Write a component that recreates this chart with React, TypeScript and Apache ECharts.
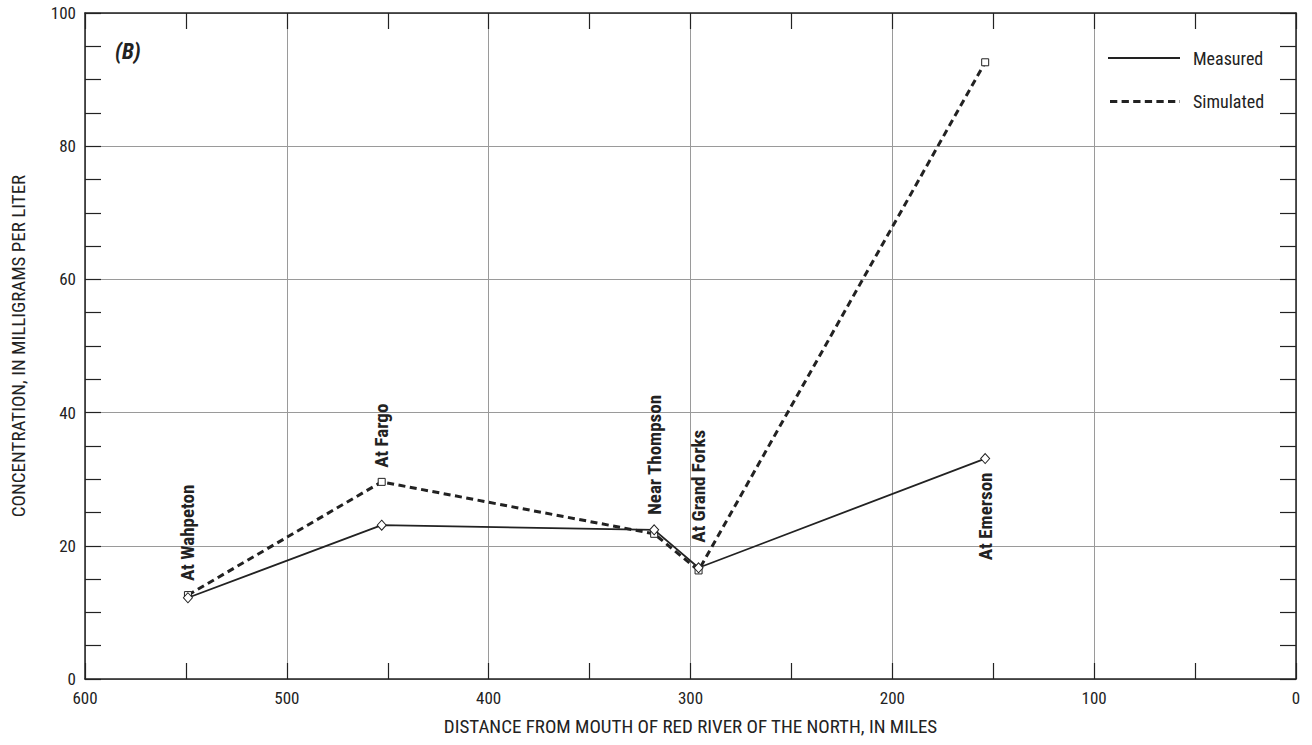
import React, { useEffect, useRef } from "react";
import * as echarts from "echarts";

// ---- Data ----
const stations = ["At Wahpeton", "At Fargo", "Near Thompson", "At Grand Forks", "At Emerson"];
const distanceMiles = [549, 453, 318, 296, 154];
const measured = [12.2, 23.1, 22.4, 16.7, 33.1];
const simulated = [12.6, 29.6, 21.8, 16.3, 92.6];
const xTicks = [0, 100, 200, 300, 400, 500, 600];
const yTicks = [0, 20, 40, 60, 80, 100];

const FONT = "'Liberation Sans Narrow', 'Arial Narrow', 'Roboto Condensed', 'Liberation Sans', sans-serif";
const INK = "#222";
const GRID = "#9a9a9a";

// label placement rules (style, not data)
const labelBelow = [false, false, false, false, true];
const labelGap = [14, 14, 15, 25, 14];

export default function App() {
  const ref = useRef<HTMLDivElement>(null);

  useEffect(() => {
    if (!ref.current) return;
    const chart = echarts.init(ref.current, null, { renderer: "svg" });

    const measuredData = distanceMiles.map((d, i) => [d, measured[i]]);
    const simulatedData = distanceMiles.map((d, i) => [d, simulated[i]]);

    const commonX = {
      type: "value",
      min: xTicks[0],
      max: xTicks[xTicks.length - 1],
      interval: 100,
      inverse: true,
      axisLine: { show: true, onZero: false, lineStyle: { color: INK, width: 1.5 } },
      axisTick: { show: true, inside: true, length: 16, lineStyle: { color: INK, width: 1.2 } },
      minorTick: { show: true, splitNumber: 2, length: 16, lineStyle: { color: INK, width: 1.2 } },
    };
    const commonY = {
      type: "value",
      min: yTicks[0],
      max: yTicks[yTicks.length - 1],
      interval: 20,
      axisLine: { show: true, onZero: false, lineStyle: { color: INK, width: 1.5 } },
      axisTick: { show: true, inside: true, length: 16, lineStyle: { color: INK, width: 1.2 } },
      minorTick: { show: true, splitNumber: 4, length: 16, lineStyle: { color: INK, width: 1.2 } },
    };

    const option: any = {
      animation: false,
      backgroundColor: "#fff",
      textStyle: { fontFamily: FONT },
      grid: { left: 85, right: 16, top: 13, bottom: 66, containLabel: false },
      xAxis: [
        {
          ...commonX,
          position: "bottom",
          splitLine: { show: true, lineStyle: { color: GRID, width: 1 } },
          axisLabel: { show: true, color: INK, fontSize: 17, fontFamily: FONT, margin: 10 },
          name: "DISTANCE FROM MOUTH OF RED RIVER OF THE NORTH, IN MILES",
          nameLocation: "middle",
          nameGap: 38,
          nameTextStyle: { color: INK, fontSize: 19, fontFamily: FONT },
        },
        {
          ...commonX,
          position: "top",
          splitLine: { show: false },
          axisLabel: { show: false },
        },
      ],
      yAxis: [
        {
          ...commonY,
          position: "left",
          splitLine: { show: true, lineStyle: { color: GRID, width: 1 } },
          axisLabel: { show: true, color: INK, fontSize: 17, fontFamily: FONT, margin: 9 },
          name: "CONCENTRATION, IN MILLIGRAMS PER LITER",
          nameLocation: "middle",
          nameGap: 57,
          nameTextStyle: { color: INK, fontSize: 19, fontFamily: FONT },
        },
        {
          ...commonY,
          position: "right",
          splitLine: { show: false },
          axisLabel: { show: false },
        },
      ],
      series: [
        {
          name: "Simulated",
          type: "line",
          xAxisIndex: 0,
          yAxisIndex: 0,
          data: simulatedData,
          symbol: "rect",
          symbolSize: 7,
          showSymbol: true,
          lineStyle: { color: INK, width: 3, type: [7, 4.5] },
          itemStyle: { color: "#fff", borderColor: INK, borderWidth: 1 },
          z: 2,
        },
        {
          name: "Measured",
          type: "line",
          xAxisIndex: 0,
          yAxisIndex: 0,
          data: measuredData,
          symbol: "diamond",
          symbolSize: [9, 10],
          showSymbol: true,
          lineStyle: { color: INK, width: 1.8, type: "solid" },
          itemStyle: { color: "#fff", borderColor: INK, borderWidth: 1 },
          z: 3,
        },
      ],
    };

    chart.setOption(option);

    const stationLabels = stations.map((name, i) => {
      const below = labelBelow[i];
      const v = below ? measured[i] : Math.max(measured[i], simulated[i]);
      const p = chart.convertToPixel({ xAxisIndex: 0, yAxisIndex: 0 }, [distanceMiles[i], v]) as number[];
      const gap = labelGap[i];
      return {
        type: "text",
        x: p[0],
        y: below ? p[1] + gap : p[1] - gap,
        rotation: Math.PI / 2,
        z: 10,
        style: {
          text: name,
          fill: INK,
          font: `bold 19px ${FONT}`,
          align: below ? "right" : "left",
          verticalAlign: "middle",
        },
      };
    });

    const legend = [
      {
        type: "line",
        shape: { x1: 1108, y1: 58, x2: 1180, y2: 58 },
        style: { stroke: INK, lineWidth: 1.8 },
        z: 10,
      },
      {
        type: "text",
        x: 1193,
        y: 58,
        style: { text: "Measured", fill: INK, font: `18px ${FONT}`, align: "left", verticalAlign: "middle" },
        z: 10,
      },
      {
        type: "line",
        shape: { x1: 1110, y1: 101.5, x2: 1180, y2: 101.5 },
        style: { stroke: INK, lineWidth: 3, lineDash: [7.3, 4.3] },
        z: 10,
      },
      {
        type: "text",
        x: 1193,
        y: 101.5,
        style: { text: "Simulated", fill: INK, font: `18px ${FONT}`, align: "left", verticalAlign: "middle" },
        z: 10,
      },
      {
        type: "text",
        x: 115,
        y: 51,
        style: { text: "(B)", fill: INK, font: `italic bold 22px ${FONT}`, align: "left", verticalAlign: "middle" },
        z: 10,
      },
    ];

    chart.setOption({ graphic: [...legend, ...stationLabels] });

    return () => {
      chart.dispose();
    };
  }, []);

  return (
    <div
      ref={ref}
      style={{ position: "fixed", left: 0, top: 0, width: 1312, height: 745, background: "#fff" }}
    />
  );
}
